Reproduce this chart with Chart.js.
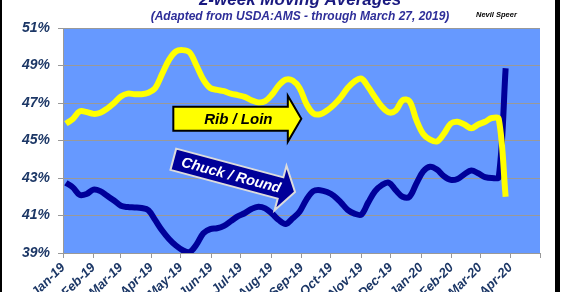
<!DOCTYPE html>
<html>
<head>
<meta charset="utf-8">
<script src="https://cdn.jsdelivr.net/npm/chart.js@4.4.1/dist/chart.umd.min.js"></script>
<style>
  html, body { margin: 0; padding: 0; background: #fff; }
  canvas { display: block; }
</style>
</head>
<body>
<canvas id="chart" width="565" height="292"></canvas>
<script>
// month starts, days since Jan 1 2019
const monthDays = [0, 31, 59, 90, 120, 151, 181, 212, 243, 273, 304, 334, 365, 396, 425, 456, 486];
const monthLabels = ["Jan-19", "Feb-19", "Mar-19", "Apr-19", "May-19", "Jun-19", "Jul-19", "Aug-19",
  "Sep-19", "Oct-19", "Nov-19", "Dec-19", "Jan-20", "Feb-20", "Mar-20", "Apr-20", ""];
const yTicks = [39, 41, 43, 45, 47, 49, 51];

// weekly points (Fridays), days since Jan 1 2019
const weekDays = [3, 10, 17, 24, 31, 38, 45, 52, 59, 66, 73, 80, 87, 94, 101, 108, 115, 122, 129, 136,
  143, 150, 157, 164, 171, 178, 185, 192, 199, 206, 213, 220, 227, 234, 241, 248, 255, 262, 269, 276,
  283, 290, 297, 304, 311, 318, 325, 332, 339, 346, 353, 360, 367, 374, 381, 388, 395, 402, 409, 416,
  423, 430, 437, 444, 451];

const ribLoin = [45.9, 46.15, 46.55, 46.52, 46.42, 46.48, 46.7, 47.0, 47.35, 47.5,
  47.47, 47.47, 47.55, 47.8, 48.55, 49.3, 49.75, 49.82, 49.7, 49.0,
  48.25, 47.8, 47.7, 47.63, 47.5, 47.42, 47.33, 47.15, 47.03, 47.1,
  47.45, 47.95, 48.25, 48.2, 47.8, 46.95, 46.45, 46.4, 46.6, 46.9,
  47.3, 47.8, 48.15, 48.3, 47.85, 47.3, 46.8, 46.5, 46.6, 47.15,
  47.1, 46.1, 45.35, 45.05, 44.95, 45.35, 45.9, 46.0, 45.85, 45.65,
  45.85, 46.0, 46.2, 46.15, 42.0];

const chuckRound = [42.75, 42.5, 42.1, 42.15, 42.38, 42.3, 42.05, 41.8, 41.52, 41.45,
  41.43, 41.4, 41.28, 40.75, 40.2, 39.75, 39.4, 39.15, 39.05, 39.45,
  40.05, 40.27, 40.32, 40.45, 40.7, 40.95, 41.12, 41.35, 41.47, 41.38,
  41.1, 40.75, 40.55, 40.85, 41.2, 41.85, 42.3, 42.35, 42.25, 42.05,
  41.7, 41.3, 41.1, 41.05, 41.7, 42.3, 42.63, 42.75, 42.35, 42.0,
  42.0, 42.7, 43.35, 43.6, 43.45, 43.1, 42.9, 42.95, 43.2, 43.4,
  43.25, 43.05, 43.0, 43.05, 48.85];

const FONT = "'Liberation Sans', Arial, sans-serif";
const axisColor = "#1c3766";

function toPoints(vals) {
  return vals.map((v, i) => ({ x: weekDays[i], y: v }));
}

function drawArrow(ctx, x, y, angle, len, bodyH, headH, headL, fill, stroke, label, color, tx, size) {
  ctx.save();
  ctx.translate(x, y);
  ctx.rotate(angle);
  ctx.beginPath();
  ctx.moveTo(0, -bodyH / 2);
  ctx.lineTo(len - headL, -bodyH / 2);
  ctx.lineTo(len - headL, -headH / 2);
  ctx.lineTo(len, 0);
  ctx.lineTo(len - headL, headH / 2);
  ctx.lineTo(len - headL, bodyH / 2);
  ctx.lineTo(0, bodyH / 2);
  ctx.closePath();
  ctx.fillStyle = fill;
  ctx.fill();
  ctx.lineWidth = 2;
  ctx.lineJoin = "miter";
  ctx.strokeStyle = stroke;
  ctx.stroke();
  ctx.fillStyle = color;
  ctx.font = "italic bold " + size + "px " + FONT;
  ctx.textAlign = "center";
  ctx.textBaseline = "middle";
  ctx.fillText(label, tx, 1);
  ctx.restore();
}

const decor = {
  id: "decor",
  beforeDraw(chart) {
    const { ctx, chartArea: a } = chart;
    ctx.save();
    ctx.fillStyle = "#fff";
    ctx.fillRect(0, 0, chart.width, chart.height);
    ctx.fillStyle = "#000";
    ctx.fillRect(0, 0, 2, chart.height);
    ctx.fillRect(555, 0, 5, chart.height);
    ctx.fillStyle = "#6699ff";
    ctx.fillRect(a.left, a.top, a.right - a.left, a.bottom - a.top);

    ctx.textAlign = "center";
    ctx.textBaseline = "alphabetic";
    ctx.fillStyle = "#1a1a80";
    ctx.font = "italic bold 17px " + FONT;
    ctx.fillText("2-week Moving Averages", 300, 5);
    ctx.fillStyle = "#2e2e99";
    ctx.font = "italic bold 12px " + FONT;
    ctx.fillText("(Adapted from USDA:AMS - through March 27, 2019)", 300, 20);
    ctx.fillStyle = "#000";
    ctx.font = "italic bold 7.5px " + FONT;
    ctx.textAlign = "left";
    ctx.fillText("Nevil Speer", 476, 17);
    ctx.restore();
  },
  afterDatasetsDraw(chart) {
    const ctx = chart.ctx;
    const xs = chart.scales.x, ys = chart.scales.y;
    drawArrow(ctx, xs.getPixelForValue(112.4), ys.getPixelForValue(46.16), 0,
      128, 24, 46, 13.5, "#ffff00", "#000", "Rib / Loin", "#000", 65, 15);
    drawArrow(ctx, xs.getPixelForValue(112.4), ys.getPixelForValue(44.0), 0.262,
      126, 22, 46, 15, "#000099", "#dcdcdc", "Chuck / Round", "#fff", 60, 14.5);
  }
};

new Chart(document.getElementById("chart"), {
  type: "line",
  data: {
    datasets: [
      {
        label: "Rib / Loin",
        data: toPoints(ribLoin),
        borderColor: "#ffff00",
        borderWidth: 6,
        pointRadius: 0,
        tension: 0.35,
        fill: false
      },
      {
        label: "Chuck / Round",
        data: toPoints(chuckRound),
        borderColor: "#000099",
        borderWidth: 6,
        pointRadius: 0,
        tension: 0.35,
        fill: false
      }
    ]
  },
  options: {
    responsive: false,
    animation: false,
    devicePixelRatio: 1,
    layout: { padding: { left: 0, right: 25, top: 28, bottom: 0 } },
    plugins: {
      legend: { display: false },
      tooltip: { enabled: false },
      title: { display: false }
    },
    scales: {
      x: {
        type: "linear",
        min: 0,
        max: 486,
        afterFit: (s) => { s.height = 39; },
        afterBuildTicks: (s) => { s.ticks = monthDays.map((v) => ({ value: v })); },
        grid: { drawOnChartArea: false, drawTicks: true, tickLength: 5, color: "#999" },
        border: { color: "#999" },
        ticks: {
          autoSkip: false,
          minRotation: 45,
          maxRotation: 45,
          padding: 2,
          color: axisColor,
          font: { family: FONT, size: 13, weight: "bold", style: "italic" },
          callback: (v) => monthLabels[monthDays.indexOf(v)]
        }
      },
      y: {
        min: 39,
        max: 51,
        afterFit: (s) => { s.width = 63; },
        afterBuildTicks: (s) => { s.ticks = yTicks.map((v) => ({ value: v })); },
        grid: { color: "#999", tickLength: 5, lineWidth: 1 },
        border: { color: "#999" },
        ticks: {
          padding: 8,
          color: axisColor,
          font: { family: FONT, size: 14, weight: "bold", style: "italic" },
          callback: (v) => v + "%"
        }
      }
    }
  },
  plugins: [decor]
});
</script>
</body>
</html>
